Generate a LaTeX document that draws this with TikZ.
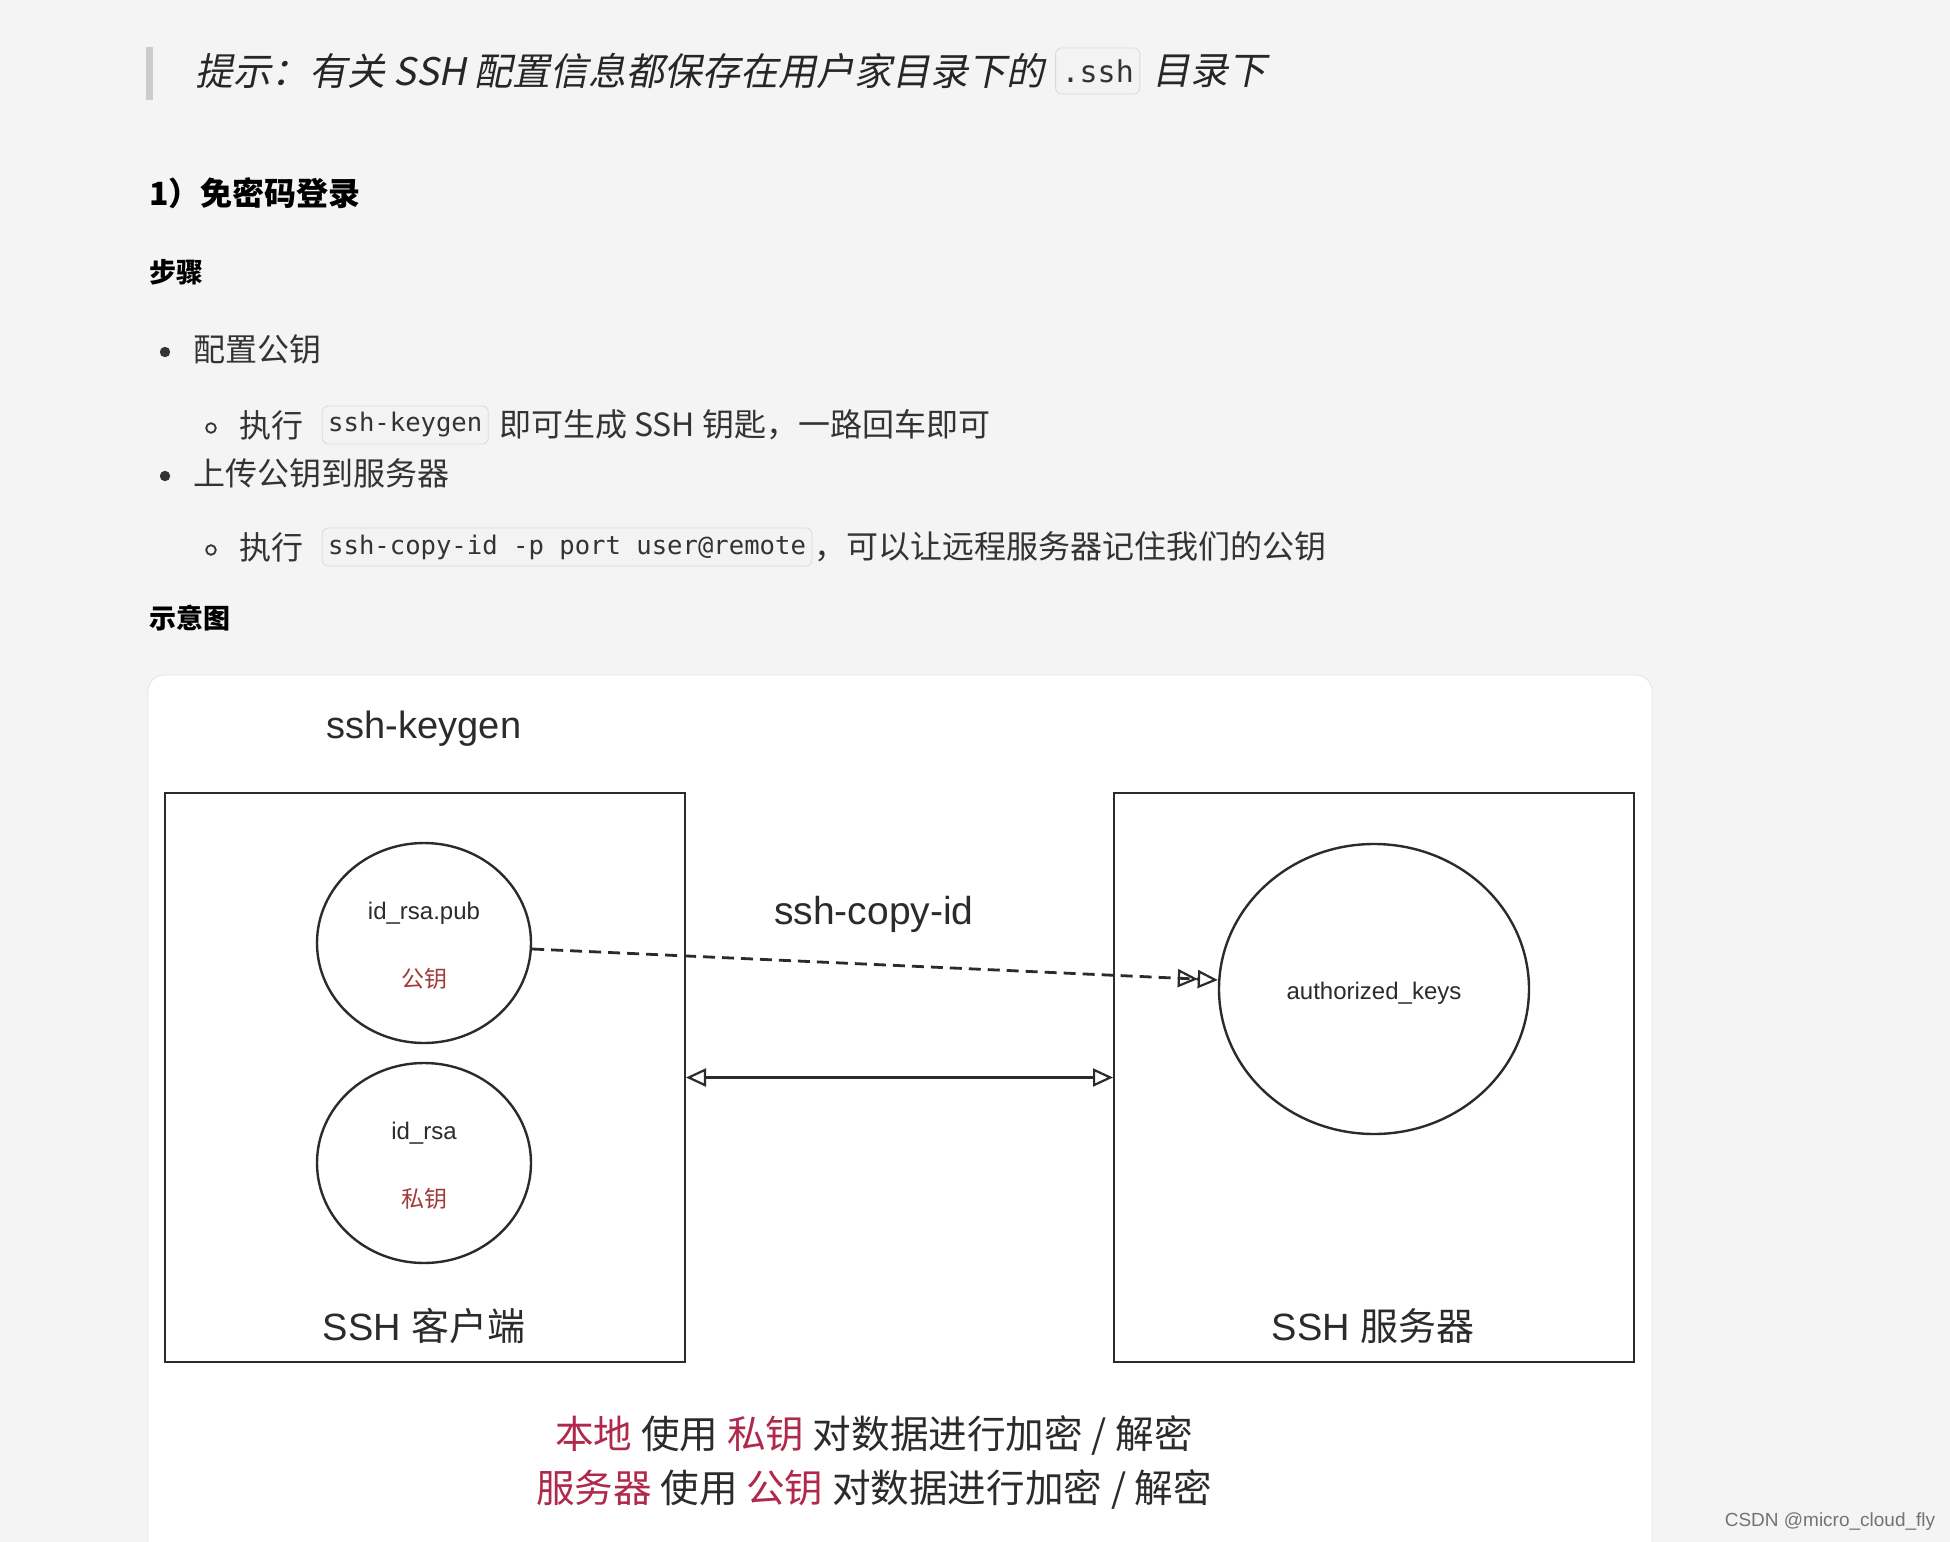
\documentclass[tikz,border=0pt]{standalone}
\usepackage{fontspec}
\setmainfont{Liberation Sans}
\setmonofont{DejaVu Sans Mono}
\newfontfamily\cjk{Noto Sans CJK SC}
\newfontfamily\cjkit{Noto Sans CJK SC}[FakeSlant=0.2]
\usetikzlibrary{shapes.geometric,arrows.meta,positioning,calc}
\definecolor{bg}{HTML}{F4F4F4}
\definecolor{txt}{HTML}{333333}
\definecolor{ink}{HTML}{2B2B2B}
\definecolor{keyred}{HTML}{A33A3A}
\definecolor{hl}{HTML}{B0284C}
\definecolor{codebg}{HTML}{F3F3F3}
\definecolor{codeline}{HTML}{DADADA}
\definecolor{cardline}{HTML}{E4E4E4}
\begin{document}
\begin{tikzpicture}[x=0.5pt,y=-0.5pt,
  body/.style={inner sep=0pt, anchor=west, text=txt, font=\cjk\fontsize{16}{19}\selectfont},
  head/.style={inner sep=0pt, anchor=west, text=black, font=\cjk\bfseries\fontsize{13.5}{16}\selectfont},
  codebox/.style={draw=codeline, fill=codebg, rounded corners=3pt, inner xsep=3pt, inner ysep=0pt, minimum height=19pt, anchor=west, text=txt, font=\ttfamily\fontsize{12.8}{15}\selectfont},
  box/.style={draw=ink, line width=1pt, minimum width=260pt, minimum height=284.5pt, inner sep=0pt},
  keyc/.style={ellipse, draw=ink, line width=1.2pt, minimum width=107pt, minimum height=100pt, inner sep=0pt},
  diag/.style={inner sep=0pt, text=ink, font=\fontsize{19}{22}\selectfont},
  small/.style={inner sep=0pt, text=ink, font=\fontsize{12}{14}\selectfont},
  redkey/.style={inner sep=0pt, text=keyred, font=\cjk\fontsize{11.5}{14}\selectfont},
  openhead/.tip={Triangle[open, length=10pt, width=9pt, line width=1.1pt]}
]
\useasboundingbox (0,0) rectangle (1950,1542);
\fill[bg] (0,0) rectangle (1950,1542);

% ---------- top markdown text ----------
\fill[black!20] (146,47) rectangle (153,100);
\node[body, text=black!85, font=\cjkit\fontsize{19}{22}\selectfont] (tip1) at (195,71) {提示：有关 SSH 配置信息都保存在用户家目录下的};
\node[codebox, font=\ttfamily\fontsize{15}{18}\selectfont, minimum height=23pt] (tipcode) at ([xshift=5pt]tip1.east) {.ssh};
\node[body, text=black!85, font=\cjkit\fontsize{19}{22}\selectfont] (tip2) at ([xshift=6pt]tipcode.east) {目录下};

\node[head, font=\cjk\bfseries\fontsize{16}{19}\selectfont] (h1) at (149,193) {1）免密码登录};
\node[head] (h2) at (149,272) {步骤};

\fill[txt] (165,352) circle (2.6pt);
\node[body] (b1) at (193,349) {配置公钥};

\draw[txt, line width=0.9pt] (211,428) circle (2.4pt);
\node[body] (s1a) at (239,425) {执行};
\node[codebox] (s1c) at ([xshift=9pt]s1a.east) {ssh-keygen};
\node[body] (s1b) at ([xshift=5pt]s1c.east) {即可生成 SSH 钥匙，一路回车即可};

\fill[txt] (165,476) circle (2.6pt);
\node[body] (b2) at (193,473) {上传公钥到服务器};

\draw[txt, line width=0.9pt] (211,550) circle (2.4pt);
\node[body] (s2a) at (239,547) {执行};
\node[codebox] (s2c) at ([xshift=9pt]s2a.east) {ssh-copy-id -p port user@remote};
\node[body] (s2b) at ([xshift=1pt]s2c.east) {，可以让远程服务器记住我们的公钥};

\node[head] (h3) at (149,618) {示意图};

% ---------- card ----------
\draw[cardline, fill=white, rounded corners=8pt] (148,675) rectangle (1652,1600);

\node[diag] (keygen) at (424,729) {ssh-keygen};

\node[box] (client) at (425,1077.5) {};
\node[box] (server) at (1374,1077.5) {};

\node[keyc] (pub) at (424,943) {};
\node[keyc] (priv) at (424,1163) {};
\node[keyc, minimum width=155pt, minimum height=145pt] (auth) at (1374,989) {};

\node[small] (publbl) at (424,913) {id\_rsa.pub};
\node[redkey] (pubcn) at (424,979) {公钥};
\node[small] (privlbl) at (424,1133) {id\_rsa};
\node[redkey] (privcn) at (424,1199) {私钥};
\node[small] (authlbl) at (1374,993) {authorized\_keys};

\node[diag, font=\fontsize{19.5}{22}\selectfont] (copyid) at (874,914) {ssh-copy-id};

\node[diag] (clientlbl) at (424,1326) {SSH {\cjk 客户端}};
\node[diag] (serverlbl) at (1373,1326) {SSH {\cjk 服务器}};

\draw[ink, line width=1.4pt, dash pattern=on 6pt off 3.5pt, -{openhead[]openhead[]}] ([yshift=-3pt]pub.east) -- ([yshift=4.5pt]auth.west);
\draw[ink, line width=1.3pt, {openhead}-{openhead}] (client.east) -- (server.west);

\node[inner sep=0pt, text=ink, font=\cjk\fontsize{19.3}{22}\selectfont] (note1) at (874,1436)
  {\textcolor{hl}{本地} 使用 \textcolor{hl}{私钥} 对数据进行加密 / 解密};
\node[inner sep=0pt, text=ink, font=\cjk\fontsize{19.3}{22}\selectfont] (note2) at (874,1490)
  {\textcolor{hl}{服务器} 使用 \textcolor{hl}{公钥} 对数据进行加密 / 解密};

\node[inner sep=0pt, text=black!55, font=\fontsize{9.5}{11}\selectfont] (wm) at (1830,1522) {CSDN @micro\_cloud\_fly};
\end{tikzpicture}
\end{document}
